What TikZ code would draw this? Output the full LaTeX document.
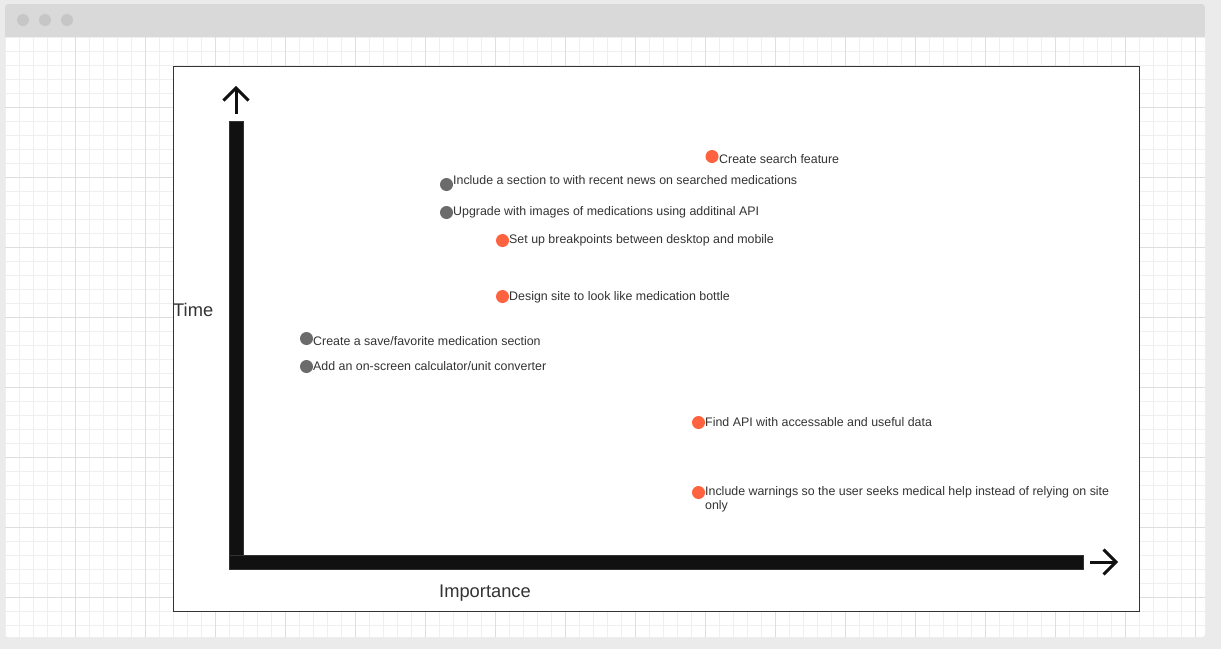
\documentclass[tikz,border=0pt]{standalone}
\usepackage{fontspec}
\setmainfont{Liberation Sans}
\begin{document}
\begin{tikzpicture}[x=1pt,y=-1pt,
  dotorange/.style={circle,fill=orangedot,inner sep=0pt,minimum size=13pt},
  dotgray/.style={circle,fill=graydot,inner sep=0pt,minimum size=13pt},
  lbl/.style={anchor=west,inner sep=0pt,text=txt,font=\fontsize{12.4}{13}\selectfont},
  axlbl/.style={inner sep=0pt,text=txt,font=\fontsize{18.3}{20}\selectfont},
  bar/.style={fill=barfill,draw=barline,line width=0.8pt},
  chev/.style={draw=barfill,line width=3pt}]
\definecolor{orangedot}{HTML}{FF623E}
\definecolor{graydot}{HTML}{6B6B6B}
\definecolor{txt}{HTML}{333333}
\definecolor{barfill}{HTML}{111111}
\definecolor{barline}{HTML}{333333}
\definecolor{outerbg}{HTML}{EBEBEB}
\definecolor{titlebar}{HTML}{D9D9D9}
\definecolor{dotc}{HTML}{C6C6C6}
\definecolor{gridminor}{HTML}{EFEFEF}
\definecolor{gridmajor}{HTML}{DEDEDE}
% background
\fill[outerbg] (0,0) rectangle (1221,649);
\useasboundingbox (0,0) rectangle (1221,649);
\fill[white,rounded corners=3pt] (5,4) rectangle (1205,637);
\fill[titlebar,rounded corners=3pt] (5,4) rectangle (1205,37);
\fill[titlebar] (5,20) rectangle (1205,37);
\fill[dotc] (23,20) circle (6);
\fill[dotc] (45,20) circle (6);
\fill[dotc] (67,20) circle (6);
% grid
\foreach \i in {0,...,85} {
  \pgfmathsetmacro{\xx}{5+14*\i}
  \draw[gridminor,line width=1pt] (\xx,37) -- (\xx,637);
}
\foreach \j in {0,...,42} {
  \pgfmathsetmacro{\yy}{37+14*\j}
  \draw[gridminor,line width=1pt] (5,\yy) -- (1205,\yy);
}
\foreach \i in {1,...,17} {
  \pgfmathsetmacro{\xx}{5+70*\i}
  \draw[gridmajor,line width=1pt] (\xx,37) -- (\xx,637);
}
\foreach \j in {1,...,8} {
  \pgfmathsetmacro{\yy}{37+70*\j}
  \draw[gridmajor,line width=1pt] (5,\yy) -- (1205,\yy);
}
% frame
\node[draw=barline,fill=white,line width=1pt,minimum width=966pt,minimum height=545pt,inner sep=0pt,anchor=north west] (frame) at (173,66) {};
% axes
\draw[bar] (229.5,121.5) rectangle (243.5,555.5);
\draw[bar] (229.5,555.5) rectangle (1083.5,569.5);
\coordinate (ub) at (236,114);
\coordinate (ut) at (236,88);
\draw[chev] (ub) -- (ut);
\draw[chev] (223.5,100.5) -- (ut) -- (248.5,100.5);
\coordinate (rb) at (1090,562);
\coordinate (rt) at (1116,562);
\draw[chev] (rb) -- (rt);
\draw[chev] (1103.5,549.5) -- (rt) -- (1103.5,574.5);
\node[axlbl,anchor=west] (time) at (173,309.5) {Time};
\node[axlbl] (imp) at (485,593.5) {Importance};
% items
\node[dotorange] (d1) at (712,156.5) {};
\node[lbl] (t1) at (719,159.5) {Create search feature};
\node[dotgray] (d2) at (446.5,184.5) {};
\node[lbl] (t2) at (453,180.5) {Include a section to with recent news on searched medications};
\node[dotgray] (d3) at (446.5,212.5) {};
\node[lbl] (t3) at (453,212.5) {Upgrade with images of medications using additinal API};
\node[dotorange] (d4) at (502.5,240.5) {};
\node[lbl] (t4) at (509,240.5) {Set up breakpoints between desktop and mobile};
\node[dotorange] (d5) at (502.5,296.5) {};
\node[lbl] (t5) at (509,297.5) {Design site to look like medication bottle};
\node[dotgray] (d6) at (306.5,338.5) {};
\node[lbl] (t6) at (313,341.5) {Create a save/favorite medication section};
\node[dotgray] (d7) at (306.5,366.5) {};
\node[lbl] (t7) at (313,366.5) {Add an on-screen calculator/unit converter};
\node[dotorange] (d8) at (698.5,422.5) {};
\node[lbl] (t8) at (705,422.5) {Find API with accessable and useful data};
\node[dotorange] (d9) at (698.5,492.5) {};
\node[lbl,anchor=north west,align=left,font=\fontsize{12.4}{14}\selectfont] (t9) at (705,486) {Include warnings so the user seeks medical help instead of relying on site\\only};
\end{tikzpicture}
\end{document}
